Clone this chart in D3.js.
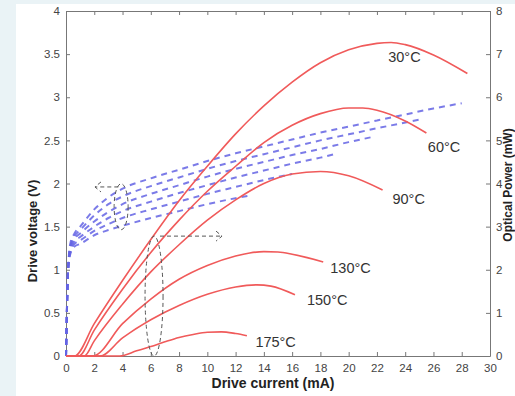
<!DOCTYPE html>
<html>
<head>
<meta charset="utf-8">
<script src="https://cdn.jsdelivr.net/npm/d3@7"></script>
<style>
  body { margin: 0; background: #eaf3f6; }
  svg { display: block; font-family: "Liberation Sans", Arial, sans-serif; }
</style>
</head>
<body>
<div id="chart"></div>
<script>
// tick labels
var currentTicks = [0, 2, 4, 6, 8, 10, 12, 14, 16, 18, 20, 22, 24, 26, 28, 30];
var voltageTicks = [0, 0.5, 1, 1.5, 2, 2.5, 3, 3.5, 4];
var powerTicks = [0, 1, 2, 3, 4, 5, 6, 7, 8];

var temps = ["30°C", "60°C", "90°C", "130°C", "150°C", "175°C"];

// optical power (mW) vs drive current (mA)
var power30 = [[0,0],[0.6,0],[2,0.75],[4,1.75],[6,2.7],[8,3.6],[10,4.4],[12,5.15],[14,5.8],[16,6.35],[18,6.8],[20,7.1],[22,7.25],[23,7.27],[24,7.22],[26,6.98],[28.4,6.55]];
var power60 = [[0,0],[0.9,0],[2,0.6],[4,1.55],[6,2.4],[8,3.15],[10,3.82],[12,4.4],[14,4.95],[16,5.35],[18,5.62],[20,5.75],[21,5.75],[22,5.7],[24,5.45],[25.5,5.17]];
var power90 = [[0,0],[1.3,0],[2,0.35],[4,1.2],[6,1.95],[8,2.58],[10,3.15],[12,3.62],[14,4.0],[16,4.22],[18,4.28],[20,4.18],[22.4,3.85]];
var power130 = [[0,0],[1.9,0],[4,0.75],[6,1.32],[8,1.78],[10,2.1],[12,2.32],[13,2.39],[14,2.42],[15,2.41],[16,2.36],[18.2,2.18]];
var power150 = [[0,0],[2.4,0],[4,0.42],[6,0.84],[8,1.17],[10,1.43],[12,1.6],[13.5,1.65],[14.5,1.62],[16.2,1.42]];
var power175 = [[0,0],[3.8,0],[5,0.12],[6,0.22],[7,0.33],[8,0.43],[9,0.5],[10,0.55],[11,0.56],[12,0.52],[12.8,0.47]];

// drive voltage (V) vs drive current (mA)
var volt30 = [[0,0],[0.15,1.0],[0.3,1.3],[0.6,1.42],[1,1.5],[2,1.7],[3,1.84],[4,1.94],[6,2.06],[8,2.16],[10,2.26],[12,2.35],[14,2.43],[16,2.51],[18,2.59],[20,2.66],[22,2.73],[24,2.8],[26,2.87],[28,2.93]];
var volt60 = [[0,0],[0.15,1.0],[0.3,1.27],[0.6,1.39],[1,1.46],[2,1.63],[3,1.76],[4,1.85],[6,1.97],[8,2.07],[10,2.17],[12,2.26],[14,2.34],[16,2.42],[18,2.5],[20,2.57],[22,2.64],[25,2.74]];
var volt90 = [[0,0],[0.15,1.0],[0.3,1.25],[0.6,1.36],[1,1.42],[2,1.56],[3,1.67],[4,1.76],[6,1.88],[8,1.98],[10,2.08],[12,2.17],[14,2.25],[16,2.33],[18,2.4],[20,2.48],[21.7,2.54]];
var volt130 = [[0,0],[0.15,1.0],[0.3,1.22],[0.6,1.33],[1,1.38],[2,1.5],[3,1.6],[4,1.68],[6,1.79],[8,1.89],[10,1.98],[12,2.07],[14,2.15],[16,2.23],[18,2.3],[19,2.34]];
var volt150 = [[0,0],[0.15,1.0],[0.3,1.2],[0.6,1.3],[1,1.34],[2,1.45],[3,1.53],[4,1.6],[6,1.7],[8,1.79],[10,1.88],[12,1.96],[14,2.04],[16,2.11]];
var volt175 = [[0,0],[0.15,1.0],[0.3,1.18],[0.6,1.27],[1,1.3],[2,1.4],[3,1.46],[4,1.51],[6,1.6],[8,1.68],[10,1.76],[12,1.83],[13,1.86]];

var powerSeries = [power30, power60, power90, power130, power150, power175];
var voltSeries = [volt30, volt60, volt90, volt130, volt150, volt175];

var width = 515, height = 396,
  margin = {left: 66, right: 25, top: 11, bottom: 40};

var svg = d3.select("#chart").append("svg")
  .attr("width", width)
  .attr("height", height);

// white panel
svg.append("rect")
  .attr("x", 16).attr("y", 4)
  .attr("width", 499).attr("height", 392)
  .attr("fill", "#fff");

var x = d3.scaleLinear().domain([0, 30]).range([margin.left, width - margin.right]),
  yL = d3.scaleLinear().domain([0, 4]).range([height - margin.bottom, margin.top]),
  yR = d3.scaleLinear().domain([0, 8]).range([height - margin.bottom, margin.top]);

var fmt = function (d) { return String(d); };

function styleAxis(g) {
  g.selectAll("path, line").attr("stroke", "#777");
  g.selectAll("text").attr("fill", "#444").attr("font-size", "11.5px");
}

svg.append("g")
  .attr("transform", "translate(0," + yL(0) + ")")
  .call(d3.axisBottom(x).tickValues(currentTicks).tickFormat(fmt).tickSizeInner(-4).tickSizeOuter(0).tickPadding(8))
  .call(styleAxis);
svg.append("g")
  .attr("transform", "translate(0," + yL(4) + ")")
  .call(d3.axisTop(x).tickValues(currentTicks).tickFormat("").tickSizeInner(-4).tickSizeOuter(0))
  .call(styleAxis);
svg.append("g")
  .attr("transform", "translate(" + x(0) + ",0)")
  .call(d3.axisLeft(yL).tickValues(voltageTicks).tickFormat(fmt).tickSizeInner(-4).tickSizeOuter(0).tickPadding(6))
  .call(styleAxis);
svg.append("g")
  .attr("transform", "translate(" + x(30) + ",0)")
  .call(d3.axisRight(yR).tickValues(powerTicks).tickFormat(fmt).tickSizeInner(-4).tickSizeOuter(0).tickPadding(6))
  .call(styleAxis);

// voltage curves (blue dashed)
var vLine = d3.line()
  .x(function (d) { return x(d[0]); })
  .y(function (d) { return yL(d[1]); })
  .curve(d3.curveMonotoneX);

svg.append("g").selectAll("path")
  .data(voltSeries)
  .enter().append("path")
  .attr("d", vLine)
  .attr("fill", "none")
  .attr("stroke", "#6464e4")
  .attr("stroke-opacity", 0.85)
  .attr("stroke-width", 2)
  .attr("stroke-dasharray", "6,5");

// power curves (red)
var pLine = d3.line()
  .x(function (d) { return x(d[0]); })
  .y(function (d) { return yR(d[1]); })
  .curve(d3.curveMonotoneX);

svg.append("g").selectAll("path")
  .data(powerSeries)
  .enter().append("path")
  .attr("d", pLine)
  .attr("fill", "none")
  .attr("stroke", "#f05a5a")
  .attr("stroke-width", 1.6);

// temperature labels, anchored in data units (current, power)
var labelAt = [[22.8, 6.82], [25.6, 4.73], [23.1, 3.52], [18.7, 1.92], [17.05, 1.18], [13.4, 0.21]];
svg.append("g").selectAll("text")
  .data(temps)
  .enter().append("text")
  .attr("x", function (d, i) { return x(labelAt[i][0]); })
  .attr("y", function (d, i) { return yR(labelAt[i][1]); })
  .attr("font-size", "14.5px")
  .attr("fill", "#333")
  .text(function (d) { return d; });

// annotations: dashed ellipses + arrows
var ann = svg.append("g")
  .attr("fill", "none")
  .attr("stroke", "#555")
  .attr("stroke-width", 1)
  .attr("stroke-dasharray", "4,3");

ann.append("ellipse")
  .attr("cx", x(3.9)).attr("cy", yL(1.73))
  .attr("rx", 7).attr("ry", 23);
ann.append("line")
  .attr("x1", x(3.7)).attr("y1", yL(1.96))
  .attr("x2", x(2.05)).attr("y2", yL(1.96));
ann.append("path")
  .attr("stroke-dasharray", null)
  .attr("d", "M" + (x(2.05) + 6) + "," + (yL(1.96) - 5) + "L" + x(2.05) + "," + yL(1.96) + "L" + (x(2.05) + 6) + "," + (yL(1.96) + 5));

ann.append("ellipse")
  .attr("cx", x(6.23)).attr("cy", yR(1.39))
  .attr("rx", 9).attr("ry", 60);
ann.append("line")
  .attr("x1", x(6.65)).attr("y1", yR(2.78))
  .attr("x2", x(11.04)).attr("y2", yR(2.78));
ann.append("path")
  .attr("stroke-dasharray", null)
  .attr("d", "M" + (x(11.04) - 6) + "," + (yR(2.78) - 5) + "L" + x(11.04) + "," + yR(2.78) + "L" + (x(11.04) - 6) + "," + (yR(2.78) + 5));

// axis titles
svg.append("text")
  .attr("x", (x(0) + x(30)) / 2 - 5)
  .attr("y", 388)
  .attr("text-anchor", "middle")
  .attr("font-size", "14px")
  .attr("font-weight", "bold")
  .attr("fill", "#222")
  .text("Drive current (mA)");

svg.append("text")
  .attr("transform", "translate(37,231) rotate(-90)")
  .attr("text-anchor", "middle")
  .attr("font-size", "13px")
  .attr("font-weight", "bold")
  .attr("fill", "#222")
  .text("Drive voltage (V)");

svg.append("text")
  .attr("transform", "translate(512,185) rotate(-90)")
  .attr("text-anchor", "middle")
  .attr("font-size", "12px")
  .attr("font-weight", "bold")
  .attr("fill", "#222")
  .text("Optical Power (mW)");
</script>
</body>
</html>
